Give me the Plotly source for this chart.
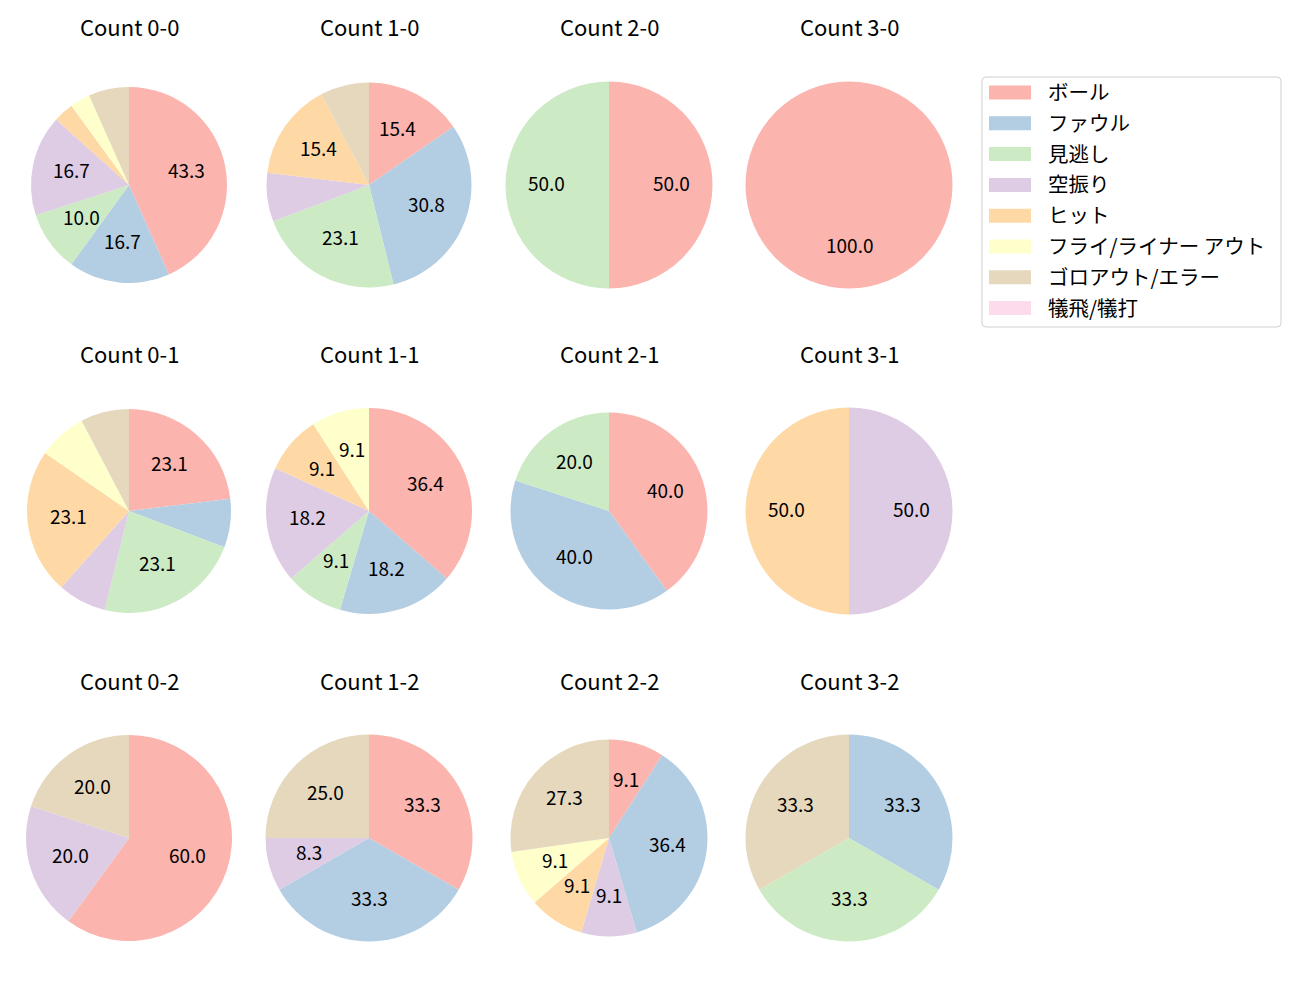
import math
import plotly.graph_objects as go

labels = ["ボール", "ファウル", "見逃し", "空振り", "ヒット", "フライ/ライナー アウト", "ゴロアウト/エラー", "犠飛/犠打"]
colors = ["#fbb4ae", "#b3cde3", "#ccebc5", "#decbe4", "#fed9a6", "#ffffcc", "#e5d8bd", "#fddaec"]

titles = ["Count 0-0", "Count 1-0", "Count 2-0", "Count 3-0",
          "Count 0-1", "Count 1-1", "Count 2-1", "Count 3-1",
          "Count 0-2", "Count 1-2", "Count 2-2", "Count 3-2"]

# counts per result category (order of labels)
counts = [
    [13, 5, 3, 5, 1, 1, 2, 0],   # 0-0
    [2, 4, 3, 1, 2, 0, 1, 0],    # 1-0
    [1, 0, 1, 0, 0, 0, 0, 0],    # 2-0
    [1, 0, 0, 0, 0, 0, 0, 0],    # 3-0
    [3, 1, 3, 1, 3, 1, 1, 0],    # 0-1
    [4, 2, 1, 2, 1, 1, 0, 0],    # 1-1
    [2, 2, 1, 0, 0, 0, 0, 0],    # 2-1
    [0, 0, 0, 1, 1, 0, 0, 0],    # 3-1
    [3, 0, 0, 1, 0, 0, 1, 0],    # 0-2
    [4, 4, 0, 1, 0, 0, 3, 0],    # 1-2
    [1, 4, 0, 1, 1, 1, 3, 0],    # 2-2
    [0, 1, 1, 0, 0, 0, 1, 0],    # 3-2
]

OFF = 8                      # page body margin
W, H = 1300 - OFF, 1000 - OFF
col_cx = [129, 369, 609, 849]
row_cy = [185, 511, 838]
title_y = [26, 353, 680]
radii = [98, 102.5, 103.5, 103.5,
         102, 103, 98.5, 103.5,
         103, 103.5, 98.5, 103.5]

FONT = "Noto Sans CJK JP"


def px(x):
    return (x - OFF) / W


def py(y):
    return 1 - (y - OFF) / H


fig = go.Figure()
annotations = []
shapes = []

for i, (t, c) in enumerate(zip(titles, counts)):
    r_i, c_i = divmod(i, 4)
    cx, cy, r = col_cx[c_i], row_cy[r_i], radii[i]
    tot = sum(c)
    labs = [l for l, v in zip(labels, c) if v > 0]
    vals = [v for v in c if v > 0]
    cols = [col for col, v in zip(colors, c) if v > 0]
    fig.add_trace(go.Pie(
        labels=labs, values=vals, textinfo="none",
        marker=dict(colors=cols, line=dict(width=0)),
        sort=False, direction="clockwise", rotation=0,
        showlegend=False, hoverinfo="label+percent",
        domain=dict(x=[px(cx - r), px(cx + r)], y=[py(cy + r), py(cy - r)]),
    ))
    # percentage labels at 0.6 radius along each slice bisector
    cum = 0
    for v in vals:
        pct = 100 * v / tot
        mid = (cum + v / 2) / tot * 2 * math.pi
        cum += v
        if pct < 8:
            continue
        annotations.append(dict(
            x=px(cx + 0.6 * r * math.sin(mid)), y=py(cy - 0.6 * r * math.cos(mid) - 3),
            xref="paper", yref="paper", text=f"{pct:.1f}", showarrow=False,
            xanchor="center", yanchor="middle",
            font=dict(family=FONT, size=19, color="#000000")))
    annotations.append(dict(x=px(cx), y=py(title_y[r_i]), xref="paper", yref="paper",
                            text=t, showarrow=False, xanchor="center", yanchor="middle",
                            font=dict(family=FONT, size=22, color="#000000")))

# legend box
lx0, lx1, ly0, ly1, rad = 982, 1281, 77, 327, 4
path = (f"M {px(lx0+rad)},{py(ly0)} L {px(lx1-rad)},{py(ly0)} Q {px(lx1)},{py(ly0)} {px(lx1)},{py(ly0+rad)} "
        f"L {px(lx1)},{py(ly1-rad)} Q {px(lx1)},{py(ly1)} {px(lx1-rad)},{py(ly1)} "
        f"L {px(lx0+rad)},{py(ly1)} Q {px(lx0)},{py(ly1)} {px(lx0)},{py(ly1-rad)} "
        f"L {px(lx0)},{py(ly0+rad)} Q {px(lx0)},{py(ly0)} {px(lx0+rad)},{py(ly0)} Z")
shapes.append(dict(type="path", path=path, xref="paper", yref="paper",
                   line=dict(color="#d0d0d0", width=1), fillcolor="rgba(255,255,255,0.8)"))
for k, (lab, col) in enumerate(zip(labels, colors)):
    yc = 92.5 + k * 30.8
    shapes.append(dict(type="rect", xref="paper", yref="paper",
                       x0=px(989), x1=px(1031), y0=py(yc + 7), y1=py(yc - 7),
                       fillcolor=col, line=dict(width=0)))
    annotations.append(dict(x=px(1046), y=py(yc - 1.5), xref="paper", yref="paper",
                            text=lab, showarrow=False, xanchor="left", yanchor="middle",
                            font=dict(family=FONT, size=20.5, color="#000000")))

fig.update_layout(width=W, height=H, margin=dict(l=0, r=0, t=0, b=0),
                  paper_bgcolor="white", plot_bgcolor="white",
                  annotations=annotations, shapes=shapes,
                  font=dict(family=FONT))
fig.write_html("out.html")
